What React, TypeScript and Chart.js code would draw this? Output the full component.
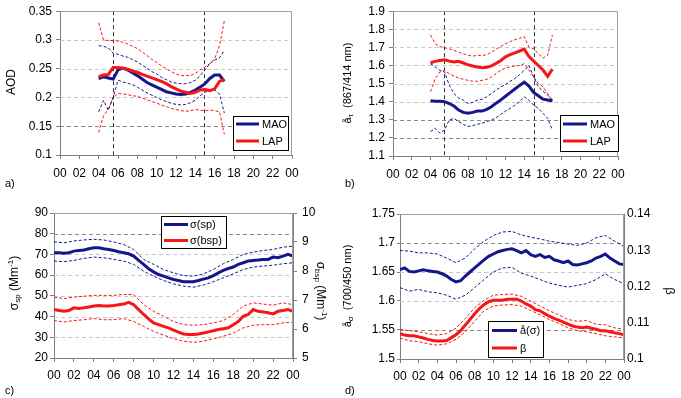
import React, { useEffect, useRef } from "react";
import { Chart, registerables } from "chart.js";

Chart.register(...registerables);

// ---------------- DATA ----------------
const X_TICK_VALUES = [0, 2, 4, 6, 8, 10, 12, 14, 16, 18, 20, 22, 24];
const X_TICK_LABELS = ["00", "02", "04", "06", "08", "10", "12", "14", "16", "18", "20", "22", "00"];

const HOURS_AB = [4, 4.5, 5, 5.5, 6, 6.5, 7, 7.5, 8, 8.5, 9, 9.5, 10, 10.5, 11, 11.5, 12, 12.5, 13, 13.5, 14, 14.5, 15, 15.5, 16, 16.5, 17];
const HOURS_HALF = [0, 0.5, 1, 1.5, 2, 2.5, 3, 3.5, 4, 4.5, 5, 5.5, 6, 6.5, 7, 7.5, 8, 8.5, 9, 9.5, 10, 10.5, 11, 11.5, 12, 12.5, 13, 13.5, 14, 14.5, 15, 15.5, 16, 16.5, 17, 17.5, 18, 18.5, 19, 19.5, 20, 20.5, 21, 21.5, 22, 22.5, 23, 23.5, 24];
const HOURS_FULL = [0, 1, 2, 3, 4, 5, 6, 7, 8, 9, 10, 11, 12, 13, 14, 15, 16, 17, 18, 19, 20, 21, 22, 23, 24];

// a) AOD
const A_Y_TICKS = [0.1, 0.15, 0.2, 0.25, 0.3, 0.35];
const A_VLINES = [5.5, 14.9];
const MAO_A = [0.233, 0.236, 0.234, 0.232, 0.248, 0.251, 0.248, 0.243, 0.238, 0.232, 0.226, 0.222, 0.218, 0.214, 0.210, 0.208, 0.206, 0.205, 0.206, 0.209, 0.213, 0.218, 0.224, 0.233, 0.239, 0.239, 0.228];
const LAP_A = [0.236, 0.239, 0.240, 0.252, 0.252, 0.251, 0.249, 0.246, 0.244, 0.240, 0.237, 0.234, 0.231, 0.228, 0.224, 0.219, 0.215, 0.211, 0.209, 0.207, 0.209, 0.213, 0.214, 0.212, 0.215, 0.228, 0.232];
const MAO_A_HI = [0.290, 0.289, 0.286, 0.277, 0.275, 0.272, 0.270, 0.266, 0.262, 0.256, 0.251, 0.245, 0.241, 0.235, 0.231, 0.227, 0.225, 0.224, 0.224, 0.226, 0.230, 0.238, 0.248, 0.259, 0.265, 0.269, 0.282];
const MAO_A_LO = [0.175, 0.195, 0.178, 0.200, 0.230, 0.227, 0.225, 0.222, 0.218, 0.213, 0.208, 0.204, 0.200, 0.196, 0.193, 0.190, 0.188, 0.187, 0.188, 0.191, 0.195, 0.203, 0.209, 0.213, 0.213, 0.206, 0.173];
const LAP_A_HI = [0.330, 0.300, 0.299, 0.299, 0.298, 0.296, 0.293, 0.289, 0.285, 0.279, 0.273, 0.266, 0.261, 0.255, 0.250, 0.245, 0.241, 0.238, 0.238, 0.238, 0.242, 0.248, 0.253, 0.259, 0.267, 0.290, 0.333];
const LAP_A_LO = [0.139, 0.168, 0.180, 0.200, 0.207, 0.206, 0.205, 0.203, 0.202, 0.199, 0.196, 0.193, 0.190, 0.187, 0.184, 0.181, 0.179, 0.177, 0.176, 0.177, 0.179, 0.178, 0.177, 0.178, 0.177, 0.175, 0.136];

// b) Angstrom exponent (867/414 nm)
const B_Y_TICKS = [1.1, 1.2, 1.3, 1.4, 1.5, 1.6, 1.7, 1.8, 1.9];
const B_VLINES = [5.4, 15.0];
const MAO_B = [1.405, 1.403, 1.402, 1.400, 1.390, 1.376, 1.354, 1.341, 1.336, 1.341, 1.348, 1.348, 1.358, 1.372, 1.392, 1.410, 1.430, 1.450, 1.470, 1.490, 1.508, 1.486, 1.451, 1.433, 1.414, 1.409, 1.405];
const LAP_B = [1.615, 1.623, 1.628, 1.632, 1.624, 1.619, 1.623, 1.614, 1.604, 1.597, 1.592, 1.588, 1.590, 1.598, 1.612, 1.628, 1.648, 1.660, 1.670, 1.680, 1.690, 1.650, 1.625, 1.600, 1.575, 1.540, 1.580];
const MAO_B_HI = [1.610, 1.592, 1.573, 1.564, 1.491, 1.445, 1.421, 1.409, 1.390, 1.396, 1.409, 1.414, 1.427, 1.445, 1.464, 1.482, 1.495, 1.513, 1.528, 1.550, 1.573, 1.600, 1.537, 1.482, 1.458, 1.436, 1.409];
const MAO_B_LO = [1.235, 1.253, 1.226, 1.244, 1.299, 1.308, 1.290, 1.275, 1.263, 1.268, 1.275, 1.281, 1.290, 1.299, 1.312, 1.330, 1.348, 1.363, 1.381, 1.400, 1.427, 1.409, 1.381, 1.363, 1.336, 1.308, 1.244];
const LAP_B_HI = [1.769, 1.720, 1.705, 1.698, 1.692, 1.683, 1.674, 1.665, 1.656, 1.652, 1.656, 1.656, 1.659, 1.674, 1.690, 1.705, 1.720, 1.732, 1.742, 1.750, 1.760, 1.701, 1.692, 1.665, 1.641, 1.656, 1.769];
const LAP_B_LO = [1.455, 1.528, 1.564, 1.573, 1.555, 1.542, 1.531, 1.524, 1.518, 1.513, 1.513, 1.518, 1.524, 1.537, 1.555, 1.573, 1.586, 1.592, 1.597, 1.600, 1.610, 1.573, 1.537, 1.500, 1.482, 1.445, 1.400];

// c) scattering / backscattering
const C_Y_TICKS = [20, 30, 40, 50, 60, 70, 80, 90];
const C_Y1_TICKS = [5, 6, 7, 8, 9, 10];
const SP_C = [70.8, 70.8, 70.6, 70.8, 71.6, 71.9, 72.1, 72.7, 73.2, 73.2, 72.7, 72.4, 71.9, 71.3, 70.8, 70.3, 69.2, 67.1, 65.2, 63.1, 61.6, 60.3, 59.5, 58.7, 57.9, 57.4, 56.8, 56.8, 56.8, 57.4, 58.1, 58.7, 59.8, 61.1, 62.3, 63.2, 63.9, 65.2, 66.0, 66.8, 67.1, 67.3, 67.6, 67.6, 68.7, 68.4, 69.2, 70.0, 69.2];
const SP_C_HI = [76.1, 75.6, 76.5, 77.0, 77.3, 77.0, 76.0, 74.8, 72.4, 67.6, 65.2, 62.7, 61.1, 59.8, 59.5, 60.6, 62.7, 65.5, 67.6, 70.0, 71.1, 71.9, 72.4, 73.5, 74.0];
const SP_C_LO = [66.8, 66.5, 67.1, 68.1, 68.7, 68.4, 67.6, 66.8, 65.2, 61.9, 59.5, 57.4, 55.8, 54.7, 54.2, 55.2, 56.8, 58.7, 60.6, 62.7, 63.9, 64.4, 64.8, 65.5, 66.0];
const BSP_C = [6.67, 6.64, 6.61, 6.64, 6.73, 6.71, 6.73, 6.76, 6.79, 6.81, 6.79, 6.79, 6.81, 6.84, 6.86, 6.92, 6.84, 6.67, 6.50, 6.35, 6.21, 6.15, 6.09, 6.04, 5.96, 5.89, 5.83, 5.81, 5.81, 5.83, 5.86, 5.90, 5.94, 5.98, 6.01, 6.04, 6.15, 6.26, 6.44, 6.50, 6.67, 6.61, 6.59, 6.56, 6.52, 6.61, 6.64, 6.67, 6.61];
const BSP_C_HI = [7.10, 7.05, 7.10, 7.13, 7.16, 7.16, 7.16, 7.19, 7.19, 6.84, 6.61, 6.44, 6.26, 6.15, 6.13, 6.15, 6.21, 6.29, 6.50, 6.79, 6.90, 6.86, 6.82, 6.90, 6.84];
const BSP_C_LO = [6.29, 6.24, 6.29, 6.32, 6.36, 6.32, 6.32, 6.36, 6.26, 6.09, 5.92, 5.79, 5.67, 5.58, 5.54, 5.58, 5.66, 5.75, 5.86, 6.04, 6.13, 6.15, 6.15, 6.21, 6.24];

// d) Angstrom exponent (700/450 nm) and backscatter ratio
const D_Y_TICKS = [1.5, 1.55, 1.6, 1.65, 1.7, 1.75];
const D_Y1_TICKS = [0.1, 0.11, 0.12, 0.13, 0.14];
const ALPHA_D = [1.654, 1.657, 1.651, 1.650, 1.652, 1.654, 1.652, 1.651, 1.650, 1.647, 1.643, 1.637, 1.633, 1.635, 1.643, 1.650, 1.657, 1.664, 1.671, 1.677, 1.681, 1.685, 1.687, 1.689, 1.690, 1.687, 1.683, 1.687, 1.680, 1.677, 1.680, 1.675, 1.677, 1.671, 1.669, 1.666, 1.669, 1.663, 1.662, 1.664, 1.666, 1.669, 1.674, 1.677, 1.681, 1.674, 1.669, 1.664, 1.663];
const ALPHA_D_HI = [1.687, 1.686, 1.683, 1.683, 1.681, 1.674, 1.666, 1.674, 1.690, 1.703, 1.713, 1.719, 1.720, 1.714, 1.710, 1.707, 1.703, 1.701, 1.698, 1.696, 1.700, 1.709, 1.713, 1.703, 1.694];
const ALPHA_D_LO = [1.623, 1.617, 1.620, 1.616, 1.614, 1.610, 1.603, 1.610, 1.623, 1.637, 1.650, 1.657, 1.658, 1.648, 1.643, 1.637, 1.631, 1.627, 1.624, 1.627, 1.630, 1.637, 1.647, 1.637, 1.630];
const BETA_D = [0.1070, 0.1066, 0.1064, 0.1064, 0.1061, 0.1058, 0.1054, 0.1051, 0.1050, 0.1050, 0.1051, 0.1059, 0.1067, 0.1078, 0.1094, 0.1109, 0.1125, 0.1139, 0.1150, 0.1158, 0.1162, 0.1162, 0.1162, 0.1165, 0.1165, 0.1165, 0.1160, 0.1152, 0.1146, 0.1136, 0.1133, 0.1125, 0.1118, 0.1112, 0.1107, 0.1102, 0.1096, 0.1091, 0.1088, 0.1086, 0.1088, 0.1085, 0.1082, 0.1078, 0.1078, 0.1075, 0.1072, 0.1070, 0.1067];
const BETA_D_HI = [0.1082, 0.1078, 0.1075, 0.1070, 0.1066, 0.1070, 0.1085, 0.1112, 0.1141, 0.1162, 0.1176, 0.1178, 0.1179, 0.1173, 0.1160, 0.1146, 0.1133, 0.1122, 0.1109, 0.1104, 0.1106, 0.1096, 0.1094, 0.1086, 0.1082];
const BETA_D_LO = [0.1058, 0.1050, 0.1048, 0.1042, 0.1038, 0.1042, 0.1054, 0.1075, 0.1104, 0.1133, 0.1146, 0.1149, 0.1150, 0.1146, 0.1134, 0.1122, 0.1109, 0.1098, 0.1086, 0.1078, 0.1075, 0.1070, 0.1064, 0.1061, 0.1058];

// ---------------- STYLE ----------------
const F = '"Liberation Sans", Arial, Helvetica, sans-serif';
const BLUE = "#16168c";
const RED = "#f51616";
const AXIS = "#808080";
const TICK_FONT = 12;

type Part = { t: string; size: number; dy?: number };

function pts(xs: number[], ys: number[]) {
  return ys.map((y, i) => ({ x: xs[i], y }));
}
function thick(label: string, xs: number[], ys: number[], color: string, axis = "y", order = 0) {
  return { label, data: pts(xs, ys), borderColor: color, backgroundColor: color, borderWidth: 3, pointRadius: 0, yAxisID: axis, order, tension: 0 };
}
function band(xs: number[], ys: number[], color: string, axis = "y") {
  return { label: "", data: pts(xs, ys), borderColor: color, backgroundColor: color, borderWidth: 1, borderDash: [3, 2], pointRadius: 0, yAxisID: axis, order: 5, tension: 0 };
}
function fmt(v: number) {
  return String(parseFloat(v.toFixed(4)));
}

function xScale(height: number, pad: number) {
  return {
    type: "linear",
    min: 0,
    max: 24,
    afterBuildTicks: (s: any) => {
      s.ticks = X_TICK_VALUES.map((v) => ({ value: v }));
    },
    ticks: { autoSkip: false, maxRotation: 0, minRotation: 0, padding: pad, color: "#000", font: { family: F, size: TICK_FONT }, callback: (_v: any, i: number) => X_TICK_LABELS[i] },
    grid: { drawOnChartArea: false, drawTicks: true, tickLength: 4, color: AXIS },
    border: { display: true, color: AXIS },
    afterFit: (s: any) => {
      s.height = height;
    },
  };
}
function yScale(ticksArr: number[], width: number, position: string, pad: number, tickLen: number) {
  return {
    type: "linear",
    position,
    min: ticksArr[0],
    max: ticksArr[ticksArr.length - 1],
    afterBuildTicks: (s: any) => {
      s.ticks = ticksArr.map((v) => ({ value: v }));
    },
    ticks: { autoSkip: false, padding: pad, color: "#000", font: { family: F, size: TICK_FONT }, callback: (_v: any, i: number) => fmt(ticksArr[i]) },
    grid: { drawOnChartArea: false, drawTicks: tickLen > 0, tickLength: tickLen, color: AXIS },
    border: { display: true, color: AXIS },
    afterFit: (s: any) => {
      s.width = width;
    },
  };
}

function drawRich(ctx: CanvasRenderingContext2D, parts: Part[], cx: number, cy: number, rot: number) {
  ctx.save();
  ctx.translate(cx, cy);
  ctx.rotate(rot);
  let w = 0;
  for (const p of parts) {
    ctx.font = `${p.size}px ${F}`;
    w += ctx.measureText(p.t).width;
  }
  let x = -w / 2;
  ctx.textBaseline = "middle";
  ctx.textAlign = "left";
  ctx.fillStyle = "#000";
  for (const p of parts) {
    ctx.font = `${p.size}px ${F}`;
    ctx.fillText(p.t, x, p.dy || 0);
    x += ctx.measureText(p.t).width;
  }
  ctx.restore();
}

type PanelDeco = {
  id: string;
  grid: number[];
  darkGrid: number[];
  vlines: number[];
  legend: { box: number[]; line: number[]; textX: number; items: { label: string; color: string; y: number }[] };
  titles: { parts: Part[]; x: number; y: number; rot: number }[];
  tag: { text: string; x: number; y: number };
};

function makePlugin(d: PanelDeco) {
  return {
    id: d.id,
    beforeDatasetsDraw(chart: any) {
      const { ctx, chartArea: ca, scales } = chart;
      ctx.save();
      ctx.lineWidth = 1;
      ctx.setLineDash([4, 3]);
      for (const v of d.grid) {
        const py = Math.round(scales.y.getPixelForValue(v)) + 0.5;
        ctx.strokeStyle = d.darkGrid.includes(v) ? "#8a8a8a" : "#c8c8c8";
        ctx.beginPath();
        ctx.moveTo(ca.left, py);
        ctx.lineTo(ca.right, py);
        ctx.stroke();
      }
      ctx.strokeStyle = "#333";
      for (const v of d.vlines) {
        const px = Math.round(scales.x.getPixelForValue(v)) + 0.5;
        ctx.beginPath();
        ctx.moveTo(px, ca.top);
        ctx.lineTo(px, ca.bottom);
        ctx.stroke();
      }
      ctx.restore();
    },
    afterDraw(chart: any) {
      const { ctx, chartArea: ca } = chart;
      ctx.save();
      // frame
      ctx.strokeStyle = "#a0a0a0";
      ctx.lineWidth = 1;
      ctx.setLineDash([]);
      ctx.beginPath();
      ctx.moveTo(Math.round(ca.left) + 0.5, Math.round(ca.top) + 0.5);
      ctx.lineTo(Math.round(ca.right) - 0.5, Math.round(ca.top) + 0.5);
      ctx.lineTo(Math.round(ca.right) - 0.5, Math.round(ca.bottom));
      ctx.stroke();
      // legend
      const L = d.legend;
      const [x0, y0, x1, y1] = L.box;
      ctx.fillStyle = "#fff";
      ctx.fillRect(x0, y0, x1 - x0, y1 - y0);
      ctx.strokeStyle = "#000";
      ctx.strokeRect(x0 + 0.5, y0 + 0.5, x1 - x0, y1 - y0);
      for (const it of L.items) {
        ctx.strokeStyle = it.color;
        ctx.lineWidth = 3;
        ctx.beginPath();
        ctx.moveTo(L.line[0], it.y);
        ctx.lineTo(L.line[1], it.y);
        ctx.stroke();
        ctx.fillStyle = "#000";
        ctx.font = `11px ${F}`;
        ctx.textBaseline = "middle";
        ctx.textAlign = "left";
        ctx.fillText(it.label, L.textX, it.y + 0.5);
      }
      // titles
      for (const t of d.titles) drawRich(ctx, t.parts, t.x, t.y, t.rot);
      // tag
      ctx.fillStyle = "#000";
      ctx.font = `11px ${F}`;
      ctx.textBaseline = "middle";
      ctx.textAlign = "left";
      ctx.fillText(d.tag.text, d.tag.x, d.tag.y);
      ctx.restore();
    },
  };
}

const UP = -Math.PI / 2;
const DOWN = Math.PI / 2;

function baseOptions(padding: any, scales: any) {
  return {
    responsive: false,
    animation: false,
    devicePixelRatio: 1,
    layout: { padding },
    plugins: { legend: { display: false }, tooltip: { enabled: false } },
    scales,
  };
}

function configA() {
  return {
    type: "line",
    data: {
      datasets: [
        thick("LAP", HOURS_AB, LAP_A, RED, "y", 0),
        thick("MAO", HOURS_AB, MAO_A, BLUE, "y", 1),
        band(HOURS_AB, MAO_A_HI, BLUE),
        band(HOURS_AB, MAO_A_LO, BLUE),
        band(HOURS_AB, LAP_A_HI, RED),
        band(HOURS_AB, LAP_A_LO, RED),
      ],
    },
    options: baseOptions({ left: 0, top: 10, right: 48, bottom: 0 }, { x: xScale(44, 7), y: yScale(A_Y_TICKS, 60, "left", 4, 4) }),
    plugins: [
      makePlugin({
        id: "panelA",
        grid: A_Y_TICKS.slice(1, -1),
        darkGrid: [0.15],
        vlines: A_VLINES,
        legend: { box: [233, 116, 288, 150], line: [236, 259], textX: 262, items: [{ label: "MAO", color: BLUE, y: 124 }, { label: "LAP", color: RED, y: 141 }] },
        titles: [{ parts: [{ t: "AOD", size: 12 }], x: 12, y: 82, rot: UP }],
        tag: { text: "a)", x: 5, y: 184 },
      }),
    ],
  };
}

function configB() {
  return {
    type: "line",
    data: {
      datasets: [
        thick("LAP", HOURS_AB, LAP_B, RED, "y", 0),
        thick("MAO", HOURS_AB, MAO_B, BLUE, "y", 1),
        band(HOURS_AB, MAO_B_HI, BLUE),
        band(HOURS_AB, MAO_B_LO, BLUE),
        band(HOURS_AB, LAP_B_HI, RED),
        band(HOURS_AB, LAP_B_LO, RED),
      ],
    },
    options: baseOptions({ left: 0, top: 10, right: 63, bottom: 0 }, { x: xScale(43, 7), y: yScale(B_Y_TICKS, 53, "left", 4, 4) }),
    plugins: [
      makePlugin({
        id: "panelB",
        grid: B_Y_TICKS.slice(1, -1),
        darkGrid: [1.2, 1.3],
        vlines: B_VLINES,
        legend: { box: [220, 115, 278, 151], line: [223, 247], textX: 250, items: [{ label: "MAO", color: BLUE, y: 124 }, { label: "LAP", color: RED, y: 141 }] },
        titles: [{ parts: [{ t: "å", size: 11 }, { t: "τ", size: 8, dy: 3 }, { t: "  (867/414 nm)", size: 11 }], x: 8, y: 83, rot: UP }],
        tag: { text: "b)", x: 5, y: 184 },
      }),
    ],
  };
}

function configC() {
  return {
    type: "line",
    data: {
      datasets: [
        thick("σ(sp)", HOURS_HALF, SP_C, BLUE, "y", 0),
        thick("σ(bsp)", HOURS_HALF, BSP_C, RED, "y1", 1),
        band(HOURS_FULL, SP_C_HI, BLUE),
        band(HOURS_FULL, SP_C_LO, BLUE),
        band(HOURS_FULL, BSP_C_HI, RED, "y1"),
        band(HOURS_FULL, BSP_C_LO, RED, "y1"),
      ],
    },
    options: baseOptions(
      { left: 0, top: 14, right: 0, bottom: 0 },
      { x: xScale(40, 6), y: yScale(C_Y_TICKS, 54, "left", 2, 4), y1: yScale(C_Y1_TICKS, 47, "right", 5, 4) }
    ),
    plugins: [
      makePlugin({
        id: "panelC",
        grid: C_Y_TICKS.slice(1, -1),
        darkGrid: [80],
        vlines: [],
        legend: { box: [161, 17, 226, 49], line: [164, 188], textX: 190, items: [{ label: "σ(sp)", color: BLUE, y: 25.5 }, { label: "σ(bsp)", color: RED, y: 41.5 }] },
        titles: [
          { parts: [{ t: "σ", size: 12 }, { t: "sp", size: 8, dy: 3 }, { t: " (Mm", size: 12 }, { t: "-1", size: 8, dy: -4 }, { t: ")", size: 12 }], x: 15, y: 84, rot: UP },
          { parts: [{ t: "σ", size: 12 }, { t: "bsp", size: 8, dy: 3 }, { t: " (Mm", size: 12 }, { t: "-1", size: 8, dy: -4 }, { t: ")", size: 12 }], x: 320, y: 92, rot: DOWN },
        ],
        tag: { text: "c)", x: 5, y: 192 },
      }),
    ],
  };
}

function configD() {
  return {
    type: "line",
    data: {
      datasets: [
        thick("å(σ)", HOURS_HALF, ALPHA_D, BLUE, "y", 0),
        thick("β", HOURS_HALF, BETA_D, RED, "y1", 1),
        band(HOURS_FULL, ALPHA_D_HI, BLUE),
        band(HOURS_FULL, ALPHA_D_LO, BLUE),
        band(HOURS_FULL, BETA_D_HI, RED, "y1"),
        band(HOURS_FULL, BETA_D_LO, RED, "y1"),
      ],
    },
    options: baseOptions(
      { left: 0, top: 15, right: 0, bottom: 0 },
      { x: xScale(39, 6), y: yScale(D_Y_TICKS, 60, "left", 2, 3), y1: yScale(D_Y1_TICKS, 57, "right", 3, 0) }
    ),
    plugins: [
      makePlugin({
        id: "panelD",
        grid: D_Y_TICKS.slice(1, -1),
        darkGrid: [1.7, 1.55],
        vlines: [],
        legend: { box: [148, 122, 203, 158], line: [152, 177], textX: 180, items: [{ label: "å(σ)", color: BLUE, y: 131.5 }, { label: "β", color: RED, y: 149 }] },
        titles: [
          { parts: [{ t: "å", size: 11 }, { t: "σ", size: 8, dy: 3 }, { t: "  (700/450 nm)", size: 11 }], x: 8, y: 87, rot: UP },
          { parts: [{ t: "β", size: 13 }], x: 330, y: 92, rot: DOWN },
        ],
        tag: { text: "d)", x: 5, y: 192 },
      }),
    ],
  };
}

const BOXES = [
  { x: 0, y: 0, w: 340, h: 199, cfg: configA },
  { x: 340, y: 0, w: 341, h: 199, cfg: configB },
  { x: 0, y: 199, w: 340, h: 199, cfg: configC },
  { x: 340, y: 199, w: 341, h: 199, cfg: configD },
];

export default function App() {
  const r0 = useRef<HTMLCanvasElement>(null);
  const r1 = useRef<HTMLCanvasElement>(null);
  const r2 = useRef<HTMLCanvasElement>(null);
  const r3 = useRef<HTMLCanvasElement>(null);
  const refs = [r0, r1, r2, r3];

  useEffect(() => {
    const charts = BOXES.map((b, i) => new Chart(refs[i].current as any, b.cfg() as any));
    return () => charts.forEach((c) => c.destroy());
  }, []);

  return (
    <div style={{ position: "fixed", left: 0, top: 0, width: 681, height: 398, background: "#fff" }}>
      {BOXES.map((b, i) => (
        <canvas
          key={i}
          ref={refs[i]}
          width={b.w}
          height={b.h}
          style={{ position: "absolute", left: b.x, top: b.y, width: b.w, height: b.h, display: "block" }}
        />
      ))}
    </div>
  );
}
